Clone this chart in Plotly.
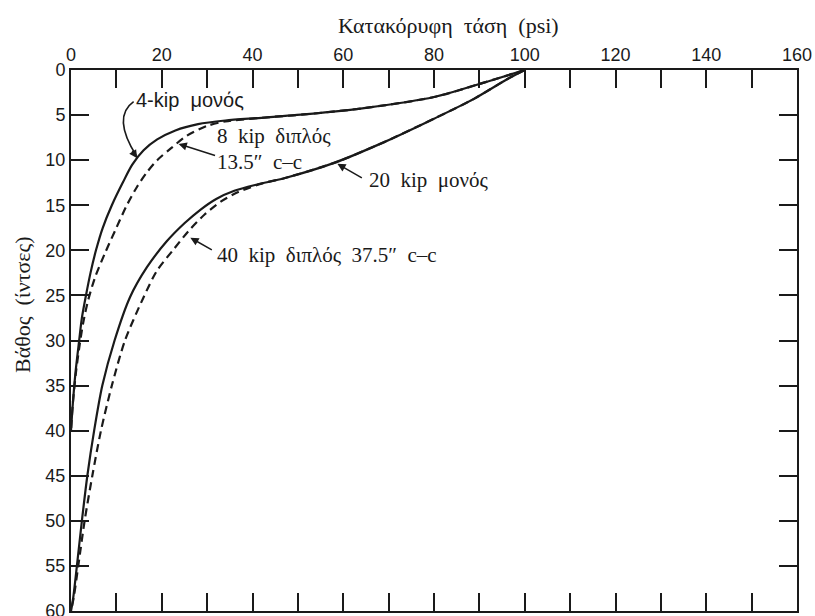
import plotly.graph_objects as go

# ---- data (stress in psi, depth in inches) ----
kip4_single_x = [100, 91, 80, 65, 52, 42, 34, 28, 23, 19, 16, 13.5, 11.5, 9.0, 7.0, 5.5, 4.3, 3.3, 2.4, 1.8, 1.0, 0.4, 0]
kip4_single_y = [0, 1.4, 3.0, 4.2, 4.9, 5.3, 5.6, 6.0, 6.7, 7.7, 8.9, 10.5, 12.4, 15.0, 17.5, 20, 22.5, 25, 27.5, 30, 33.5, 37, 40]

kip8_dual_x = [100, 91, 80, 65, 52, 42, 34, 30, 25.5, 22, 19, 16.5, 14.5, 12.3, 10, 7.5, 5.3, 3.8, 2.7, 1.9, 1.1, 0.4, 0]
kip8_dual_y = [0, 1.4, 3.0, 4.2, 4.9, 5.3, 5.7, 6.2, 7.3, 8.7, 10, 11.5, 13, 15, 17.5, 20.3, 23, 25.5, 28, 30.5, 33.5, 37, 40]

kip20_single_x = [100, 96.2, 88.8, 80, 69, 58, 47, 41, 36, 32, 28.5, 25, 21.1, 16.7, 13, 9.6, 6.9, 5.1, 3.6, 2.4, 1.3, 0.5, 0]
kip20_single_y = [0, 1.0, 3.2, 5.4, 8.0, 10.3, 12.0, 12.7, 13.4, 14.3, 15.5, 17.0, 19.0, 21.9, 25.2, 30, 35, 40, 45, 50, 55, 58.5, 60]

kip40_dual_x = [100, 96.2, 88.8, 80, 69, 58, 47, 42, 37, 33, 29.5, 26, 22.6, 18.9, 16, 11.9, 9.0, 6.6, 4.7, 3.0, 1.6, 0.6, 0]
kip40_dual_y = [0, 1.0, 3.2, 5.4, 8.0, 10.3, 12.0, 12.6, 13.5, 14.6, 16.0, 17.8, 19.9, 22.3, 25.2, 30, 35, 40, 45, 50, 55, 58.5, 60]

x_ticks = list(range(0, 161, 10))
x_labels = [str(v) if v % 20 == 0 else "" for v in x_ticks]
y_ticks = list(range(0, 61, 5))
y_labels = [str(v) for v in y_ticks]

NB = "\u00a0"
x_title = "Κατακόρυφη τάση (psi)"
y_title = "Βάθος (ίντσες)"
lbl_4 = "4-kip μονός"
lbl_8a = "8 kip διπλός"
lbl_8b = "13.5″ c–c"
lbl_20 = "20 kip μονός"
lbl_40 = "40 kip διπλός 37.5″ c–c"

INK = "#1a1a1a"
SERIF = "Liberation Serif"
SANS = "Liberation Sans"

fig = go.Figure()

def add_curve(xs, ys, dash):
    fig.add_trace(go.Scatter(
        x=xs, y=ys, mode="lines",
        line=dict(color=INK, width=2.2, dash=dash, shape="spline", smoothing=0.8),
        showlegend=False, hoverinfo="skip"))

add_curve(kip4_single_x, kip4_single_y, "solid")
add_curve(kip8_dual_x, kip8_dual_y, "8px,5px")
add_curve(kip20_single_x, kip20_single_y, "solid")
add_curve(kip40_dual_x, kip40_dual_y, "8px,5px")

# curved leader for 4-kip label
fig.add_shape(type="path", xref="x", yref="y",
              path="M 13.8,3.5 Q 9.0,5.2 14.4,9.5",
              line=dict(color=INK, width=1.6))

def arrow(x, y, ax, ay):
    fig.add_annotation(x=x, y=y, ax=ax, ay=ay, text="", showarrow=True,
                       arrowhead=2, arrowsize=1.1, arrowwidth=1.5, arrowcolor=INK)

arrow(14.6, 9.8, -6, -9)
arrow(23.7, 8.2, 38, 12)
arrow(58.7, 10.4, 26, 15)
arrow(26.3, 18.6, 23, 13)

def label(x, y, txt, font, size, yanchor="middle"):
    fig.add_annotation(x=x, y=y, text=txt.replace(" ", NB + NB), showarrow=False,
                       xanchor="left", yanchor=yanchor, borderpad=0,
                       font=dict(family=font, size=size, color=INK))

label(14.0, 3.35, lbl_4, SANS, 20)
label(32.0, 8.75, lbl_8a, SERIF, 21, "bottom")
label(32.0, 8.75, lbl_8b, SERIF, 21, "top")
label(65.4, 12.2, lbl_20, SERIF, 21)
label(32.0, 20.5, lbl_40, SERIF, 21)

W, H = 815, 616
L, R, T, B = 71, 18, 70, 5

fig.update_layout(
    width=W, height=H,
    margin=dict(l=L, r=R, t=T, b=B),
    paper_bgcolor="white", plot_bgcolor="white",
    xaxis=dict(range=[0, 160], side="top", tickvals=x_ticks, ticktext=x_labels,
               ticks="inside", ticklen=18, tickwidth=1.5, tickcolor=INK,
               showline=True, linewidth=2, linecolor=INK, mirror="ticks",
               showgrid=False, zeroline=False, automargin=False,
               ticklabeloverflow="allow",
               tickfont=dict(family=SANS, size=18, color=INK)),
    yaxis=dict(range=[60, 0], tickvals=y_ticks, ticktext=y_labels,
               ticks="inside", ticklen=18, tickwidth=1.5, tickcolor=INK,
               showline=True, linewidth=2, linecolor=INK, mirror="ticks",
               showgrid=False, zeroline=False, automargin=False,
               ticklabeloverflow="allow",
               tickfont=dict(family=SANS, size=18, color=INK)),
)

pw, ph = W - L - R, H - T - B
fig.add_annotation(x=(448 - L) / pw, y=1 + (T - 25) / ph,
                   xref="paper", yref="paper", text=x_title.replace(" ", NB + NB),
                   showarrow=False, xanchor="center", yanchor="middle",
                   font=dict(family=SERIF, size=22, color=INK))
fig.add_annotation(x=-(L - 22) / pw, y=1 - (305 - T) / ph,
                   xref="paper", yref="paper", text=y_title.replace(" ", NB + NB),
                   showarrow=False, textangle=-90, xanchor="center", yanchor="middle",
                   font=dict(family=SERIF, size=22, color=INK))

# remove the default page margin so the 815x616 figure fills the window exactly
fig.write_html("out.html",
               config={"displayModeBar": False},
               post_script="document.body.style.margin='0';document.body.style.overflow='hidden';")
